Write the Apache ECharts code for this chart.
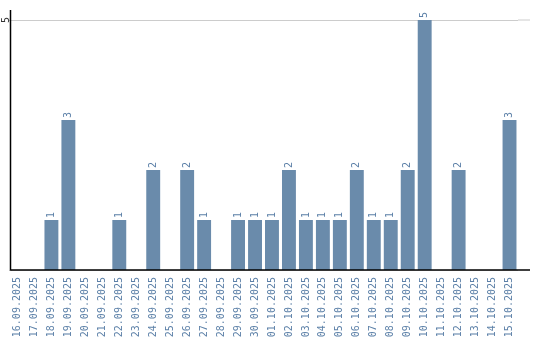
<!DOCTYPE html>
<html>
<head>
<meta charset="utf-8">
<script src="https://cdn.jsdelivr.net/npm/echarts@6/dist/echarts.min.js"></script>
<style>
html,body{margin:0;padding:0;background:#fff;}
#c{width:540px;height:340px;}
</style>
</head>
<body>
<div id="c"></div>
<script>
const categories = ["16.09.2025","17.09.2025","18.09.2025","19.09.2025","20.09.2025","21.09.2025","22.09.2025","23.09.2025","24.09.2025","25.09.2025","26.09.2025","27.09.2025","28.09.2025","29.09.2025","30.09.2025","01.10.2025","02.10.2025","03.10.2025","04.10.2025","05.10.2025","06.10.2025","07.10.2025","08.10.2025","09.10.2025","10.10.2025","11.10.2025","12.10.2025","13.10.2025","14.10.2025","15.10.2025"];
const values = [0,0,1,3,0,0,1,0,2,0,2,1,0,1,1,1,2,1,1,1,2,1,1,2,5,0,2,0,0,3];
const yTicks = [0,5];

const barColor = '#6a8bab';
const textColor = '#5c80a8';
const fontFamily = '"DejaVu Sans Mono", "Liberation Mono", monospace';

const chart = echarts.init(document.getElementById('c'), null, {renderer:'canvas'});
chart.setOption({
  animation:false,
  grid:{left:9, right:22, top:20, bottom:70, containLabel:false, outerBoundsMode:'none'},
  xAxis:{
    type:'category',
    data:categories,
    axisLine:{show:false},
    axisTick:{show:false},
    axisLabel:{rotate:90, interval:0, color:textColor, fontFamily:fontFamily, fontSize:10, margin:7}
  },
  yAxis:{
    type:'value',
    min:yTicks[0], max:yTicks[1], interval:yTicks[1]-yTicks[0],
    axisLine:{show:false},
    axisTick:{show:false},
    axisLabel:{showMinLabel:false, rotate:90, hideOverlap:false, align:'center',
      color:'#333', fontFamily:fontFamily, fontSize:10, margin:-2},
    splitLine:{show:true, lineStyle:{color:'#cccccc', width:1}}
  },
  series:[{
    type:'bar',
    data:values.map(v => v === 0 ? null : v),
    barCategoryGap:'18%',
    itemStyle:{color:barColor},
    label:{show:true, position:'top', rotate:90, align:'left', verticalAlign:'middle', distance:2,
      color:textColor, fontFamily:fontFamily, fontSize:10}
  }]
});

// axis lines drawn slightly beyond the plot area, as in the reference
const pTop = chart.convertToPixel({gridIndex:0}, [categories[0], yTicks[1]]);
const rect = chart.getModel().getComponent('grid').coordinateSystem.getRect();
const xr = rect.x + rect.width, yb = rect.y + rect.height, yt = pTop[1];
const xa = 10.5;
chart.setOption({
  graphic:[
    {type:'line', shape:{x1:xr, y1:yt, x2:530, y2:yt}, style:{stroke:'#cccccc', lineWidth:1}},
    {type:'line', shape:{x1:xa, y1:yt-10, x2:xa, y2:yb+0.5}, style:{stroke:'#000', lineWidth:1.5}, z:10},
    {type:'line', shape:{x1:xa, y1:yb, x2:530, y2:yb}, style:{stroke:'#000', lineWidth:1.5}, z:10}
  ]
});
</script>
</body>
</html>
